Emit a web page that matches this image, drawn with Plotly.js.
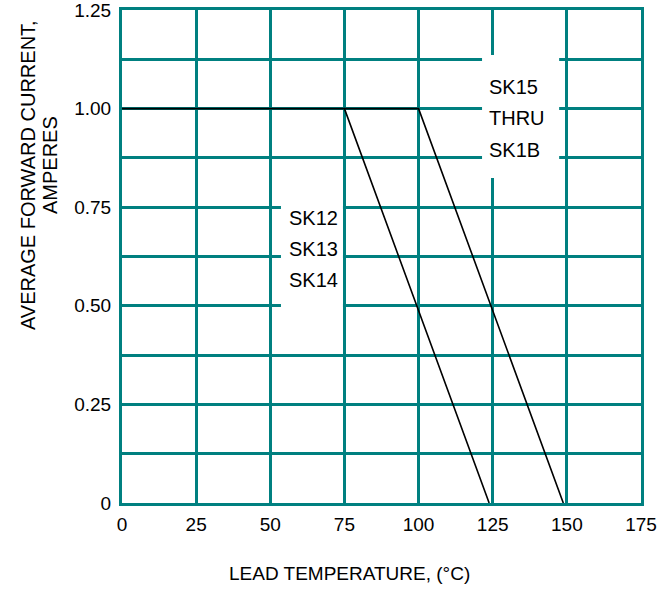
<!DOCTYPE html>
<html>
<head>
<meta charset="utf-8">
<script src="https://cdn.plot.ly/plotly-3.0.1.min.js"></script>
<style>html,body{margin:0;padding:0;background:#fff;}#chart{width:660px;height:589px;}</style>
</head>
<body>
<div id="chart"></div>
<script>
// Data
var curveA_x = [0, 75, 123.8];     // SK12-SK14 derating
var curveA_y = [1.0, 1.0, 0];
var curveB_x = [75, 100, 148.8];   // SK15 thru SK1B derating
var curveB_y = [1.0, 1.0, 0];
var xTickVals = [0, 25, 50, 75, 100, 125, 150, 175];
var xTickText = ['0', '25', '50', '75', '100', '125', '150', '175'];
var yTickVals = [0, 0.25, 0.5, 0.75, 1.0, 1.25];
var yTickText = ['0', '0.25', '0.50', '0.75', '1.00', '1.25'];
var labelA = ['SK12', 'SK13', 'SK14'];
var labelB = ['SK15', 'THRU', 'SK1B'];

var TEAL = '#008080';
var FONT = '"Liberation Sans", Arial, sans-serif';

var traces = [
  {x: curveA_x, y: curveA_y, mode: 'lines', line: {color: '#000', width: 1.6}, hoverinfo: 'skip', showlegend: false},
  {x: curveB_x, y: curveB_y, mode: 'lines', line: {color: '#000', width: 1.6}, hoverinfo: 'skip', showlegend: false}
];

var annotations = [];
var aY = [0.7226, 0.644, 0.565];
labelA.forEach(function (t, i) {
  annotations.push({x: 55.6, y: aY[i], xref: 'x', yref: 'y', text: t, showarrow: false,
    xanchor: 'left', yanchor: 'middle', font: {family: FONT, size: 20, color: '#000'}});
});
var bY = [1.0555, 0.976, 0.895];
labelB.forEach(function (t, i) {
  annotations.push({x: 123.1, y: bY[i], xref: 'x', yref: 'y', text: t, showarrow: false,
    xanchor: 'left', yanchor: 'middle', font: {family: FONT, size: 20, color: '#000'}});
});
annotations.push({x: -0.1811, y: 0.6653, xref: 'paper', yref: 'paper', text: 'AVERAGE FORWARD CURRENT,',
  textangle: -90, showarrow: false, xanchor: 'center', yanchor: 'middle', font: {family: FONT, size: 20, color: '#000'}});
annotations.push({x: -0.1387, y: 0.6856, xref: 'paper', yref: 'paper', text: 'AMPERES',
  textangle: -90, showarrow: false, xanchor: 'center', yanchor: 'middle', font: {family: FONT, size: 20, color: '#000'}});
annotations.push({x: 0.4393, y: -0.144, xref: 'paper', yref: 'paper', text: 'LEAD TEMPERATURE, (°C)',
  showarrow: false, xanchor: 'center', yanchor: 'middle', font: {family: FONT, size: 19, color: '#000'}});

var layout = {
  width: 660, height: 589,
  margin: {l: 122, r: 19, t: 10, b: 86},
  paper_bgcolor: '#fff', plot_bgcolor: '#fff',
  font: {family: FONT, size: 19, color: '#000'},
  xaxis: {
    range: [0, 175], tickmode: 'array', tickvals: xTickVals, ticktext: xTickText,
    showgrid: true, gridcolor: TEAL, gridwidth: 3,
    showline: true, linecolor: TEAL, linewidth: 3, mirror: true,
    zeroline: false, ticks: '', ticklabelstandoff: 2, ticklabeloverflow: 'allow',
    tickfont: {family: FONT, size: 19, color: '#000'}, fixedrange: true
  },
  yaxis: {
    range: [0, 1.25], tickmode: 'array', tickvals: yTickVals, ticktext: yTickText,
    showgrid: true, gridcolor: TEAL, gridwidth: 3,
    minor: {tickmode: 'linear', tick0: 0, dtick: 0.125, showgrid: true, gridcolor: TEAL, gridwidth: 3, ticks: ''},
    showline: true, linecolor: TEAL, linewidth: 3, mirror: true,
    zeroline: false, ticks: '', ticklabelstandoff: 4, ticklabeloverflow: 'allow',
    tickfont: {family: FONT, size: 19, color: '#000'}, fixedrange: true
  },
  shapes: [
    {type: 'rect', xref: 'x', yref: 'y', x0: 53.6, x1: 74.5, y0: 0.48, y1: 0.79, fillcolor: '#fff', line: {width: 0}, layer: 'between'},
    {type: 'rect', xref: 'x', yref: 'y', x0: 121.4, x1: 147.4, y0: 0.824, y1: 1.136, fillcolor: '#fff', line: {width: 0}, layer: 'between'}
  ],
  annotations: annotations,
  showlegend: false
};

Plotly.newPlot('chart', traces, layout, {displayModeBar: false, staticPlot: true});
</script>
</body>
</html>
